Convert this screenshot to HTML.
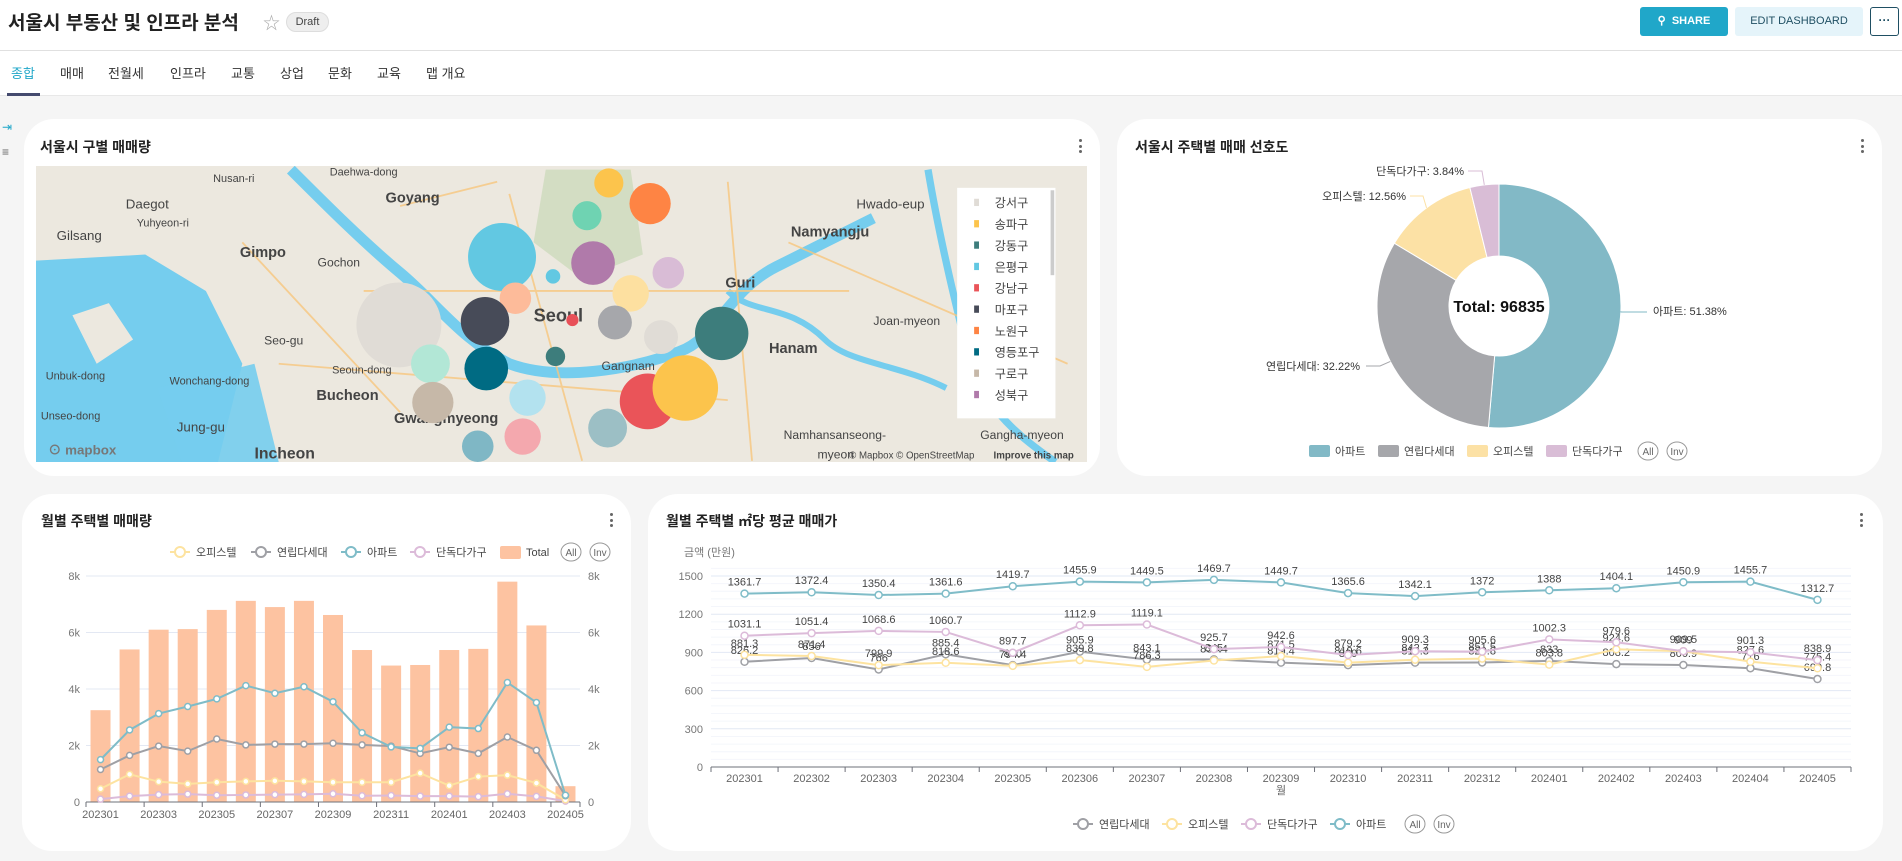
<!DOCTYPE html>
<html><head><meta charset="utf-8">
<style>
*{box-sizing:border-box;margin:0;padding:0}
body{width:1902px;height:861px;overflow:hidden;position:relative;background:#f5f5f5;font-family:"Liberation Sans","Noto Sans CJK KR",sans-serif;color:#222}
.abs{position:absolute}
#topbar{left:0;top:0;width:1902px;height:96px;background:#fff}
.card{position:absolute;background:#fff;border-radius:30px}
.ctitle{position:absolute;font-size:14px;font-weight:bold;color:#222;white-space:nowrap}
.kebab{position:absolute;width:4px;height:16px}
.kebab i{display:block;width:3px;height:3px;border-radius:50%;background:#666;margin-bottom:2.5px}
.tab{position:absolute;top:63px;font-size:13px;color:#333;white-space:nowrap}
svg text{font-family:"Liberation Sans","Noto Sans CJK KR",sans-serif}
</style></head>
<body>
<div id="topbar" class="abs"></div>
<div class="abs" style="left:0;top:50px;width:1902px;height:1px;background:#e0e0e0"></div>
<div class="abs" style="left:0;top:95px;width:1902px;height:1px;background:#e8e8e8"></div>
<div class="abs" style="left:8px;top:8px;font-size:19px;font-weight:bold;color:#222;white-space:nowrap">서울시 부동산 및 인프라 분석</div>
<div class="abs" style="left:263px;top:9px;font-size:17px;color:#aaa">☆</div>
<div class="abs" style="left:286px;top:12px;width:43px;height:20px;border-radius:10px;background:#eee;border:1px solid #ddd;font-size:11px;color:#444;text-align:center;line-height:18px">Draft</div>
<div class="abs" style="left:1640px;top:7px;width:88px;height:29px;background:#20a7c9;border-radius:3px;color:#fff;font-size:11px;font-weight:bold;line-height:29px;text-align:center">⚲&nbsp; SHARE</div>
<div class="abs" style="left:1735px;top:7px;width:128px;height:29px;background:#e5f4fa;border-radius:3px;color:#1f4f63;font-size:11px;line-height:29px;text-align:center">EDIT DASHBOARD</div>
<div class="abs" style="left:1870px;top:7px;width:29px;height:29px;border:1px solid #1f4f63;border-radius:3px;color:#1f4f63;font-size:12px;line-height:25px;text-align:center;font-weight:bold">···</div>

<div class="tab" style="left:11px;color:#20a7c9">종합</div>
<div class="tab" style="left:60px">매매</div>
<div class="tab" style="left:108px">전월세</div>
<div class="tab" style="left:170px">인프라</div>
<div class="tab" style="left:231px">교통</div>
<div class="tab" style="left:280px">상업</div>
<div class="tab" style="left:328px">문화</div>
<div class="tab" style="left:377px">교육</div>
<div class="tab" style="left:426px">맵 개요</div>
<div class="abs" style="left:7px;top:93px;width:33px;height:3px;background:#444a6e"></div>
<div class="abs" style="left:2px;top:120px;font-size:12px;color:#20a7c9">⇥</div>
<div class="abs" style="left:2px;top:145px;font-size:12px;color:#666">≡</div>

<div class="card" style="left:24px;top:119px;width:1076px;height:357px"></div>
<div class="card" style="left:1117px;top:119px;width:765px;height:357px"></div>
<div class="card" style="left:22px;top:494px;width:609px;height:357px"></div>
<div class="card" style="left:648px;top:494px;width:1235px;height:357px"></div>

<div class="ctitle" style="left:40px;top:137px">서울시 구별 매매량</div>
<div class="ctitle" style="left:1135px;top:137px">서울시 주택별 매매 선호도</div>
<div class="ctitle" style="left:41px;top:511px">월별 주택별 매매량</div>
<div class="ctitle" style="left:666px;top:511px">월별 주택별 ㎡당 평균 매매가</div>
<div class="kebab" style="left:1079px;top:139px"><i></i><i></i><i></i></div>
<div class="kebab" style="left:1861px;top:139px"><i></i><i></i><i></i></div>
<div class="kebab" style="left:610px;top:513px"><i></i><i></i><i></i></div>
<div class="kebab" style="left:1860px;top:513px"><i></i><i></i><i></i></div>

<!-- MAP -->
<svg class="abs" style="left:36px;top:166px" width="1051" height="296" viewBox="30 137 866 244" preserveAspectRatio="none">
<rect x="30" y="137" width="866" height="244" fill="#ece8df"/>
<path d="M30 215 L120 210 L170 240 L200 300 L180 381 L30 381 Z" fill="#75cdee"/>
<path d="M60 260 L90 250 L110 280 L80 300 Z" fill="#ece8df"/>
<path d="M130 320 L210 300 L230 381 L150 381 Z" fill="#75cdee" opacity=".9"/>
<path d="M240 140 C270 170 300 200 330 225 C360 250 380 280 420 300 C460 315 520 305 560 290 C590 280 600 240 640 220 C670 205 690 195 720 180" stroke="#75cdee" stroke-width="9" fill="none"/>
<path d="M765 140 C775 200 790 260 800 300 C815 340 840 360 870 381" stroke="#75cdee" stroke-width="6" fill="none"/>
<path d="M600 240 C620 260 650 250 680 280 C700 300 740 300 780 320" stroke="#75cdee" stroke-width="5" fill="none"/>
<path d="M450 140 L520 140 L530 210 L480 230 L440 200 Z" fill="#c9d9b6" opacity=".7"/>
<path d="M330 170 L410 150 M200 200 L330 340 M420 160 L480 380 M600 150 L620 380 M300 240 L700 240 M230 300 L600 330 M650 200 L880 300" stroke="#f7c67d" stroke-width="1.5" fill="none" opacity=".8"/>
<g fill="#444" font-size="9">
<text x="176" y="150">Nusan-ri</text><text x="272" y="145">Daehwa-dong</text><text x="104" y="172" font-size="11">Daegot</text>
<text x="113" y="187">Yuhyeon-ri</text><text x="47" y="198" font-size="11">Gilsang</text><text x="318" y="167" font-size="12" font-weight="bold">Goyang</text>
<text x="198" y="212" font-size="12" font-weight="bold">Gimpo</text><text x="262" y="220" font-size="10">Gochon</text>
<text x="218" y="284" font-size="10">Seo-gu</text><text x="274" y="308">Seoun-dong</text><text x="38" y="313">Unbuk-dong</text>
<text x="140" y="317">Wonchang-dong</text><text x="261" y="330" font-size="12" font-weight="bold">Bucheon</text>
<text x="34" y="346">Unseo-dong</text><text x="146" y="356" font-size="11">Jung-gu</text><text x="210" y="378" font-size="13" font-weight="bold">Incheon</text>
<text x="325" y="349" font-size="12" font-weight="bold">Gwangmyeong</text><text x="440" y="265" font-size="15" font-weight="bold">Seoul</text>
<text x="496" y="305" font-size="10">Gangnam</text><text x="652" y="195" font-size="12" font-weight="bold">Namyangju</text>
<text x="706" y="172" font-size="11">Hwado-eup</text><text x="598" y="237" font-size="12" font-weight="bold">Guri</text>
<text x="720" y="268" font-size="10">Joan-myeon</text><text x="634" y="291" font-size="12" font-weight="bold">Hanam</text>
<text x="646" y="362" font-size="10">Namhansanseong-</text><text x="674" y="378" font-size="10">myeon</text>
<text x="808" y="362" font-size="10">Gangha-myeon</text><text x="700" y="378" font-size="8">© Mapbox © OpenStreetMap</text>
<text x="819" y="378" font-size="8" font-weight="bold">Improve this map</text>
<text x="40" y="375" font-size="11" fill="#777" font-weight="bold">⊙ mapbox</text>
</g>
<g id="bubbles"></g>
<rect x="789" y="155" width="81" height="190" fill="#fff"/>
<rect x="866" y="157" width="3" height="70" fill="#ccc"/>
<g id="maplegend" font-size="10" fill="#444"></g>
</svg>

<svg id="pie" class="abs" style="left:0;top:0" width="1902" height="861"></svg>
<svg id="bar" class="abs" style="left:0;top:0;pointer-events:none" width="1902" height="861"></svg>
<svg id="line" class="abs" style="left:0;top:0;pointer-events:none" width="1902" height="861"></svg>

<script>
// ---------- MAP ----------
const bubbleX=[502,536,484,414,489,456,551,425,520,329,400,472,507,545,595,355,458,401,357,435,534,565,501,431,394];
const bubbleY=[151,168,178,212,217,228,225,246,242,268,265,264,266,278,275,300,294,304,332,328,331,320,353,360,368];
const bubbleR=[12,17,12,28,18,6,13,13,15,35,20,5,14,14,22,16,8,18,17,15,23,27,16,15,13];
const bubbleC=["#fcc44c","#fe8444","#6fd3b2","#62c8e2","#b07aaa","#62c8e2","#d9bcd6","#fdbb9a","#fde0a0","#e0dcd6","#474b58","#e85058","#a6a7ab","#e0dcd6","#3d7d7c","#b2e7d6","#3d7d7c","#006b83","#c6b8a8","#b3e2ef","#ea5459","#fcc44c","#9cbfc5","#f4a8ae","#7fb7c5"];
const districts=["강서구","송파구","강동구","은평구","강남구","마포구","노원구","영등포구","구로구","성북구"];
const districtC=["#e0dcd6","#fcc44c","#3d7d7c","#62c8e2","#ea5459","#474b58","#fe8444","#006b83","#c6b8a8","#b07aaa"];
const NS="http://www.w3.org/2000/svg";
function mk(tag,attrs,parent,txt){const e=document.createElementNS(NS,tag);for(const k in attrs)e.setAttribute(k,attrs[k]);if(txt!==undefined)e.textContent=txt;parent.appendChild(e);return e;}
const bg=document.getElementById('bubbles');
bubbleX.forEach((x,i)=>{const c=mk('ellipse',{cx:x,cy:bubbleY[i],rx:bubbleR[i],ry:bubbleR[i],fill:bubbleC[i]},bg);

});
const ml=document.getElementById('maplegend');
districts.forEach((d,i)=>{const y=168+i*17.6;
const r=mk('rect',{x:803,y:y-4,width:4,height:6,fill:districtC[i]},ml);


const t=mk('text',{x:820,y:y+3},ml,d);

});

// ---------- PIE ----------
const pieLabels=["아파트","연립다세대","오피스텔","단독다가구"];
const pieValues=[51.38,32.22,12.56,3.84];
const pieTotal="96835";
const pieColors=["#82b9c6","#a6a7ab","#fce1a5","#d9bdd6"];
(function(){
const s=document.getElementById('pie');const cx=1499,cy=306,R=122,r0=50;
const sum=pieValues.reduce((a,b)=>a+b,0);let a0=-Math.PI/2;
const lab=[[1653,315,'start',1621,312,1647,312],[1360,370,'end',1380,366,1366,366],[1406,200,'end',1423,196,1410,196],[1464,175,'end',1482,171,1468,171]];
pieValues.forEach((v,i)=>{const a1=a0+v/sum*2*Math.PI;const lg=(a1-a0)>Math.PI?1:0;
const p=(a,rr)=>[cx+rr*Math.cos(a),cy+rr*Math.sin(a)];
const [x1,y1]=p(a0,R),[x2,y2]=p(a1,R),[x3,y3]=p(a1,r0),[x4,y4]=p(a0,r0);
const sl=mk('path',{d:`M${x1} ${y1}A${R} ${R} 0 ${lg} 1 ${x2} ${y2}L${x3} ${y3}A${r0} ${r0} 0 ${lg} 0 ${x4} ${y4}Z`,fill:pieColors[i],stroke:'#fff','stroke-width':1},s);


const am=(a0+a1)/2;const [ex,ey]=p(am,R);const L=lab[i];
mk('polyline',{points:`${ex},${ey} ${L[3]},${L[4]} ${L[5]},${L[6]}`,fill:'none',stroke:pieColors[i],'stroke-width':1},s);
const t=mk('text',{x:L[0],y:L[1],'text-anchor':L[2],'font-size':11,fill:'#333'},s,pieLabels[i]+': '+v.toFixed(2)+'%');


a0=a1;});
const tt=mk('text',{x:cx,y:cy+6,'text-anchor':'middle','font-size':16,'font-weight':'bold',fill:'#111'},s,'Total: '+pieTotal);


const lx=[1309,1378,1467,1546];
pieLabels.forEach((l,i)=>{const r=mk('rect',{x:lx[i],y:445,width:21,height:12,rx:2,fill:pieColors[i]},s);


const t=mk('text',{x:lx[i]+26,y:455,'font-size':11,fill:'#444'},s,l);

});
[['All',1648],['Inv',1677]].forEach(([t,x])=>{mk('ellipse',{cx:x,cy:451,rx:10,ry:9,fill:'#fff',stroke:'#999'},s);const e=mk('text',{x:x,y:455,'text-anchor':'middle','font-size':10,fill:'#666'},s,t);

});
})();

// ---------- BAR + LINE (monthly volume) ----------
const months=["202301","202302","202303","202304","202305","202306","202307","202308","202309","202310","202311","202312","202401","202402","202403","202404","202405"];
const volTotal=[3250,5400,6100,6120,6800,7120,6900,7120,6620,5380,4830,4850,5380,5420,7800,6250,560];
const volApt=[1500,2550,3130,3380,3650,4120,3850,4080,3550,2450,1950,1900,2650,2600,4230,3520,240];
const volVilla=[1150,1650,1980,1800,2230,2020,2050,2050,2080,2020,1980,1720,1940,1720,2300,1830,220];
const volOffi=[470,980,720,640,700,730,750,730,700,700,700,1020,580,900,950,670,80];
const volHouse=[100,210,260,280,240,250,260,270,290,220,230,210,210,190,290,200,30];
const volTicks=[0,2000,4000,6000,8000];
const volTickLabels=["0","2k","4k","6k","8k"];
(function(){
const s=document.getElementById('bar');const x0=86,x1=580,yb=802,yt=576,vmax=8000;
const bw=(x1-x0)/months.length;const X=i=>x0+bw*(i+.5);const Y=v=>yb-(v/vmax)*(yb-yt);
volTicks.forEach((t,i)=>{const y=Y(t);if(t>0)mk('line',{x1:x0,x2:x1,y1:y,y2:y,stroke:'#e3e8f3'},s);
mk('text',{x:80,y:y+4,'text-anchor':'end','font-size':11,fill:'#777'},s,volTickLabels[i]);
mk('text',{x:588,y:y+4,'font-size':11,fill:'#777'},s,volTickLabels[i]);});
volTotal.forEach((v,i)=>{const b=mk('rect',{x:X(i)-10,y:Y(v),width:20,height:yb-Y(v),fill:'#fdc3a1'},s);

});
mk('line',{x1:x0,x2:x1,y1:yb,y2:yb,stroke:'#6e7079'},s);
months.forEach((m,i)=>{if(i%2==0){mk('line',{x1:x0+bw*i,x2:x0+bw*i,y1:yb,y2:yb+5,stroke:'#6e7079'},s);
mk('text',{x:X(i),y:yb+16,'text-anchor':'middle','font-size':11,fill:'#666'},s,m);}});
mk('line',{x1:x1,x2:x1,y1:yb,y2:yb+5,stroke:'#6e7079'},s);
const series=[[volHouse,'#dcbbd9'],[volOffi,'#fde3a0'],[volVilla,'#9fa0a5'],[volApt,'#7fbcc8']];
series.forEach(([d,c])=>{mk('polyline',{points:d.map((v,i)=>X(i)+','+Y(v)).join(' '),fill:'none',stroke:c,'stroke-width':2},s);
d.forEach((v,i)=>{const p=mk('circle',{cx:X(i),cy:Y(v),r:3,fill:'#fff',stroke:c,'stroke-width':1.5},s);

});});
const leg=[['오피스텔','#fde3a0',180],['연립다세대','#9fa0a5',261],['아파트','#7fbcc8',351],['단독다가구','#dcbbd9',420]];
leg.forEach(([n,c,x])=>{mk('line',{x1:x-10,x2:x+10,y1:552,y2:552,stroke:c,'stroke-width':2},s);mk('circle',{cx:x,cy:552,r:5,fill:'#fff',stroke:c,'stroke-width':2},s);
const t=mk('text',{x:x+16,y:556,'font-size':11,fill:'#444'},s,n);

});
mk('rect',{x:500,y:546,width:21,height:13,rx:2,fill:'#fdc3a1'},s);
mk('text',{x:526,y:556,'font-size':11,fill:'#444'},s,'Total');
[['All',571],['Inv',600]].forEach(([t,x])=>{mk('ellipse',{cx:x,cy:552,rx:10,ry:9,fill:'#fff',stroke:'#999'},s);const e=mk('text',{x:x,y:556,'text-anchor':'middle','font-size':10,fill:'#666'},s,t);

});
})();

// ---------- LINE (price per m2) ----------
const priceApt=[1361.7,1372.4,1350.4,1361.6,1419.7,1455.9,1449.5,1469.7,1449.7,1365.6,1342.1,1372,1388,1404.1,1450.9,1455.7,1312.7];
const priceHouse=[1031.1,1051.4,1068.6,1060.7,897.7,1112.9,1119.1,925.7,942.6,879.2,909.3,905.6,1002.3,979.6,909.5,901.3,838.9];
const priceOffi=[881.3,871.4,799.9,818.6,794.4,839.8,786.3,836.4,871.5,819.6,842.7,851.5,803.8,924.6,909,827.6,775.4];
const priceVilla=[826.2,856,766,885.4,800,905.9,843.1,845,819.4,800,819.3,820.8,833,808.2,800.9,776,690.8];
const priceTicks=[0,300,600,900,1200,1500];
(function(){
const s=document.getElementById('line');const x0=711,x1=1851,yb=767,yt=576,vmax=1500;
const bw=(x1-x0)/months.length;const X=i=>x0+bw*(i+.5);const Y=v=>yb-(v/vmax)*(yb-yt);
for(let v=60;v<=1560;v+=60){if(v%300)mk('line',{x1:x0,x2:x1,y1:Y(v),y2:Y(v),stroke:'#f4f6fb'},s);}
priceTicks.forEach(t=>{const y=Y(t);if(t>0)mk('line',{x1:x0,x2:x1,y1:y,y2:y,stroke:'#e2e8f4'},s);
mk('text',{x:703,y:y+4,'text-anchor':'end','font-size':11,fill:'#777'},s,String(t));});
mk('text',{x:684,y:556,'font-size':11,fill:'#777'},s,'금액 (만원)');
mk('line',{x1:x0,x2:x1,y1:yb,y2:yb,stroke:'#6e7079'},s);
months.forEach((m,i)=>{mk('line',{x1:x0+bw*i,x2:x0+bw*i,y1:yb,y2:yb+5,stroke:'#6e7079'},s);
mk('text',{x:X(i),y:yb+15,'text-anchor':'middle','font-size':11,fill:'#666'},s,m);});
mk('line',{x1:x1,x2:x1,y1:yb,y2:yb+5,stroke:'#6e7079'},s);
mk('text',{x:X(8),y:yb+27,'text-anchor':'middle','font-size':11,fill:'#666'},s,'월');
const series=[[priceVilla,'#9fa0a5'],[priceOffi,'#fde3a0'],[priceHouse,'#dcbbd9'],[priceApt,'#7fbcc8']];
series.forEach(([d,c])=>{mk('polyline',{points:d.map((v,i)=>X(i)+','+Y(v)).join(' '),fill:'none',stroke:c,'stroke-width':2},s);
d.forEach((v,i)=>{const p=mk('circle',{cx:X(i),cy:Y(v),r:3.5,fill:'#fff',stroke:c,'stroke-width':1.5},s);


mk('text',{x:X(i),y:Y(v)-8,'text-anchor':'middle','font-size':11,fill:'#444'},s,String(v));});});
const leg=[['연립다세대','#9fa0a5',1083],['오피스텔','#fde3a0',1172],['단독다가구','#dcbbd9',1251],['아파트','#7fbcc8',1340]];
leg.forEach(([n,c,x])=>{mk('line',{x1:x-10,x2:x+10,y1:824,y2:824,stroke:c,'stroke-width':2},s);mk('circle',{cx:x,cy:824,r:5,fill:'#fff',stroke:c,'stroke-width':2},s);
const t=mk('text',{x:x+16,y:828,'font-size':11,fill:'#444'},s,n);

});
[['All',1415],['Inv',1444]].forEach(([t,x])=>{mk('ellipse',{cx:x,cy:824,rx:10,ry:9,fill:'#fff',stroke:'#999'},s);const e=mk('text',{x:x,y:828,'text-anchor':'middle','font-size':10,fill:'#666'},s,t);

});
})();
</script>
</body></html>
